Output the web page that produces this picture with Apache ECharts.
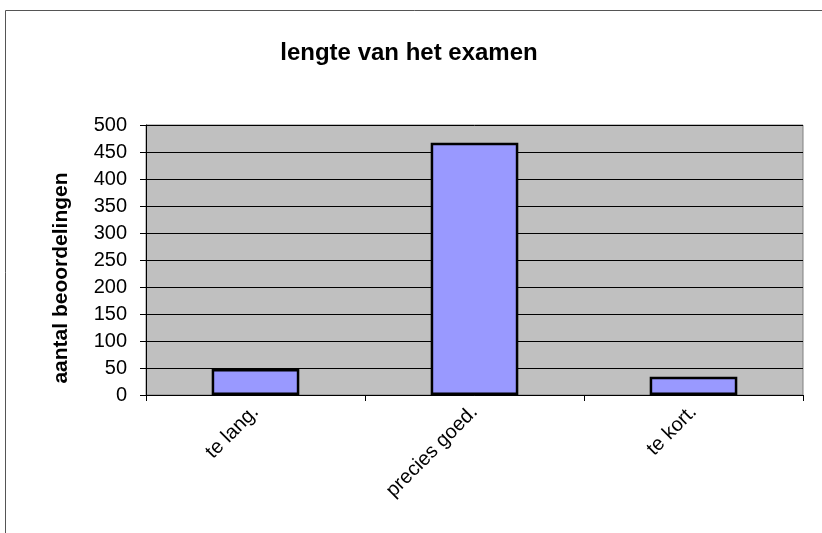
<!DOCTYPE html>
<html><head><meta charset="utf-8">
<script src="https://cdn.jsdelivr.net/npm/echarts@6/dist/echarts.min.js"></script>
<style>html,body{margin:0;padding:0;background:#fff}#c{width:822px;height:533px}</style>
</head><body><div id="c"></div>
<script>
const categories = ['te lang.', 'precies goed.', 'te kort.'];
const values = [48, 467, 34];
const yTicks = {min: 0, max: 500, interval: 50};
const yAxisTitle = 'aantal beoordelingen';
const chartTitle = 'lengte van het examen';

const chart = echarts.init(document.getElementById('c'), null, {renderer: 'canvas'});
chart.setOption({
  animation: false,
  backgroundColor: '#ffffff',
  title: {
    text: chartTitle,
    left: 404, top: 36, textAlign: 'center',
    textStyle: {fontFamily: 'Liberation Sans', fontWeight: 'bold', fontSize: 24, color: '#000'}
  },
  graphic: [{
    type: 'polyline', silent: true,
    shape: {points: [[5.5, 540], [5.5, 10.5], [830, 10.5]]},
    style: {stroke: '#555', lineWidth: 1, fill: null}
  }, {
    type: 'text', silent: true,
    x: 61, y: 278, rotation: Math.PI / 2,
    style: {text: yAxisTitle, fontFamily: 'Liberation Sans', fontWeight: 'bold', fontSize: 21, fill: '#000', align: 'center', verticalAlign: 'middle'}
  }],
  grid: {left: 146, right: 19, top: 125, bottom: 138, show: true, backgroundColor: '#c0c0c0', borderColor: '#808080', borderWidth: 1},
  xAxis: {
    type: 'category', data: categories,
    axisLine: {lineStyle: {color: '#000', width: 1}},
    axisTick: {show: true, interval: 0, length: 6, lineStyle: {color: '#000'}},
    axisLabel: {rotate: 45, fontFamily: 'Liberation Sans', fontSize: 20, color: '#000', margin: 14, interval: 0},
    splitLine: {show: false}
  },
  yAxis: {
    type: 'value', min: yTicks.min, max: yTicks.max, interval: yTicks.interval,
    axisLine: {show: true, lineStyle: {color: '#000', width: 1}},
    axisTick: {show: true, length: 6, lineStyle: {color: '#000'}},
    axisLabel: {fontFamily: 'Liberation Sans', fontSize: 20, color: '#000', margin: 19},
    splitLine: {show: true, lineStyle: {color: '#000', width: 1}}
  },
  series: [{
    type: 'bar', data: values, barCategoryGap: '60%',
    itemStyle: {color: '#9999ff', borderColor: '#000', borderWidth: 2.5}
  }]
});
</script></body></html>
